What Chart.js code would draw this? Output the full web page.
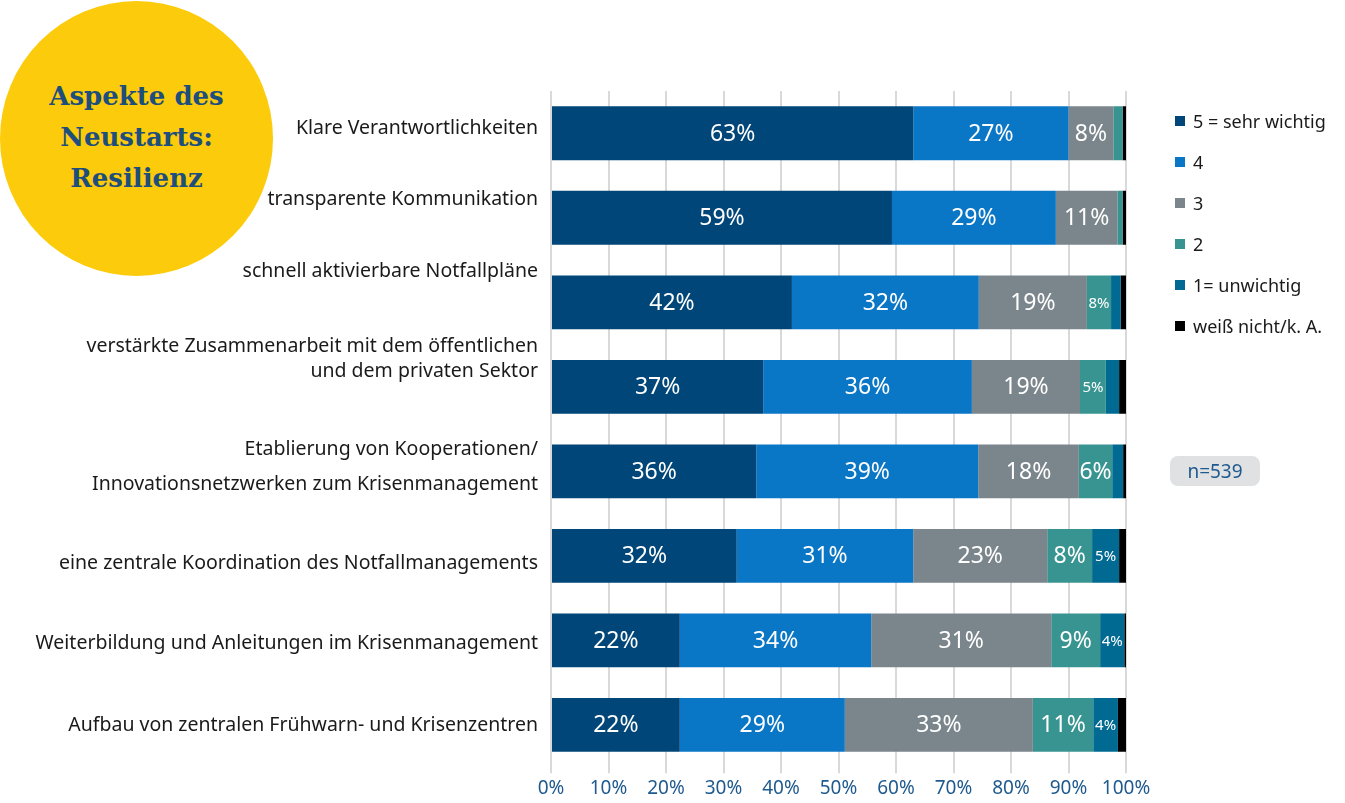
<!DOCTYPE html>
<html lang="de">
<head>
<meta charset="utf-8">
<script src="https://cdn.jsdelivr.net/npm/chart.js@4"></script>
<style>
  html, body { margin: 0; padding: 0; background: #fff; }
  #wrap { position: relative; width: 1345px; height: 803px; overflow: hidden; font-family: "Noto Sans", Lato, sans-serif; }
  #badge {
    position: absolute; left: 0; top: 1px; width: 273px; height: 275px; border-radius: 50%;
    background: #fccb0b; display: flex; align-items: center; justify-content: center; text-align: center;
    font-family: "DejaVu Serif", "Liberation Serif", serif; font-weight: bold; font-size: 26px; line-height: 41px;
    color: #1d4e7c;
  }
  #badge span { margin-top: -2px; }
  canvas { position: absolute; left: 0; top: 0; }
  #legend { position: absolute; left: 1175px; top: 100px; margin: 0; padding: 0; list-style: none; }
  #legend li { height: 41px; display: flex; align-items: center; font-size: 18px; color: #1a1a1a; }
  #legend i { display: inline-block; width: 10px; height: 10px; margin-right: 8px; }
  #nbox {
    position: absolute; left: 1170px; top: 456px; width: 90px; height: 30px; border-radius: 8px;
    background: #dfe1e3; color: #1f5a8f; font-size: 19px; line-height: 30px; text-align: center;
  }
</style>
</head>
<body>
<div id="wrap">
  <div id="badge"><span>Aspekte des<br>Neustarts:<br>Resilienz</span></div>
  <canvas id="resilienzChart" width="1345" height="803"></canvas>
  <ul id="legend"></ul>
  <div id="nbox">n=539</div>
</div>
<script>
const categories = [
  'Klare Verantwortlichkeiten',
  'transparente Kommunikation',
  'schnell aktivierbare Notfallpläne',
  ['verstärkte Zusammenarbeit mit dem öffentlichen', 'und dem privaten Sektor'],
  ['Etablierung von Kooperationen/', 'Innovationsnetzwerken zum Krisenmanagement'],
  'eine zentrale Koordination des Notfallmanagements',
  'Weiterbildung und Anleitungen im Krisenmanagement',
  'Aufbau von zentralen Frühwarn- und Krisenzentren'
];

const seriesNames = ['5 = sehr wichtig', '4', '3', '2', '1= unwichtig', 'weiß nicht/k. A.'];

// shares in percent
const wichtig5 = [63.0, 59.3, 41.9, 36.9, 35.7, 32.3, 22.4, 22.4];
const wichtig4 = [27.0, 28.5, 32.5, 36.3, 38.6, 30.7, 33.3, 28.7];
const wichtig3 = [7.8, 10.7, 18.8, 18.8, 17.5, 23.3, 31.3, 32.7];
const wichtig2 = [1.6, 0.9, 4.2, 4.5, 5.8, 7.8, 8.5, 10.5];
const unwichtig1 = [0, 0, 1.7, 2.3, 1.9, 4.7, 4.2, 4.3];
const weissNicht = [0.6, 0.6, 0.9, 1.2, 0.5, 1.2, 0.3, 1.4];

// printed segment labels as in the original
const labels5 = ['63%', '59%', '42%', '37%', '36%', '32%', '22%', '22%'];
const labels4 = ['27%', '29%', '32%', '36%', '39%', '31%', '34%', '29%'];
const labels3 = ['8%', '11%', '19%', '19%', '18%', '23%', '31%', '33%'];
const labels2 = ['', '', '8%', '5%', '6%', '8%', '9%', '11%'];
const labels1 = ['', '', '', '', '', '5%', '4%', '4%'];
const labelsX = ['', '', '', '', '', '', '', ''];

const xTicks = [0, 10, 20, 30, 40, 50, 60, 70, 80, 90, 100];

const colors = ['#004678', '#0a76c6', '#7b868c', '#389491', '#006a92', '#000000'];

// the category texts in the original sit a little off the bar centres
const labelShift = [-5, -18, -31, -28, -4, 8, 3, 0];
const labelLineGap = [0, 0, 0, 25, 35, 0, 0, 0];

const seriesValues = [wichtig5, wichtig4, wichtig3, wichtig2, unwichtig1, weissNicht];
const seriesLabels = [labels5, labels4, labels3, labels2, labels1, labelsX];

const FONT = '"Noto Sans", Lato, sans-serif';

const segmentLabels = {
    id: 'segmentLabels',
    afterDatasetsDraw(chart) {
        const ctx = chart.ctx;
        ctx.save();
        ctx.fillStyle = '#ffffff';
        ctx.textAlign = 'center';
        ctx.textBaseline = 'middle';
        chart.data.datasets.forEach(function (ds, i) {
            const meta = chart.getDatasetMeta(i);
            meta.data.forEach(function (bar, j) {
                const txt = seriesLabels[i][j];
                if (!txt) return;
                const w = Math.abs(bar.x - bar.base);
                const size = w < 30 ? 15 : 23;
                ctx.font = size + 'px ' + FONT;
                ctx.fillText(txt, (bar.x + bar.base) / 2, bar.y + 1);
            });
        });
        ctx.restore();
    }
};

const categoryLabels = {
    id: 'categoryLabels',
    afterDraw(chart) {
        const ctx = chart.ctx;
        const y = chart.scales.y;
        ctx.save();
        ctx.fillStyle = '#1a1a1a';
        ctx.textAlign = 'right';
        ctx.textBaseline = 'middle';
        ctx.font = '19.5px ' + FONT;
        const right = chart.chartArea.left - 13;
        categories.forEach(function (cat, i) {
            const mid = y.getPixelForValue(i) + labelShift[i];
            const lines = Array.isArray(cat) ? cat : [cat];
            const gap = labelLineGap[i];
            lines.forEach(function (line, k) {
                const yy = mid + (k - (lines.length - 1) / 2) * gap;
                ctx.fillText(line, right, yy);
            });
        });
        ctx.restore();
    }
};

document.addEventListener('DOMContentLoaded', function () {

    const canvas = document.getElementById('resilienzChart');

    if (!canvas || typeof Chart === 'undefined') {
        return;
    }

    const chart = new Chart(canvas, {
        type: 'bar',
        data: {
            labels: categories,
            datasets: seriesValues.map(function (vals, i) {
                return {
                    label: seriesNames[i],
                    data: vals,
                    backgroundColor: colors[i],
                    borderWidth: 0,
                    barPercentage: 0.637,
                    categoryPercentage: 1
                };
            })
        },
        options: {
            indexAxis: 'y',
            responsive: false,
            animation: false,
            layout: {
                padding: { top: 91, right: 219, bottom: 0, left: 0 }
            },
            plugins: {
                legend: { display: false },
                tooltip: { enabled: false }
            },
            scales: {
                x: {
                    stacked: true,
                    min: 0,
                    max: 100,
                    afterBuildTicks: function (scale) {
                        scale.ticks = xTicks.map(function (v) { return { value: v }; });
                    },
                    grid: { color: '#d9d9d9', lineWidth: 2, drawTicks: true, tickLength: 6 },
                    border: { display: false },
                    ticks: {
                        color: '#1f5a8f',
                        font: { family: FONT, size: 19 },
                        padding: 3.5,
                        callback: function (v) { return v + '%'; }
                    }
                },
                y: {
                    stacked: true,
                    grid: { display: false },
                    border: { display: false },
                    afterFit: function (scale) { scale.width = 551; },
                    ticks: { display: false }
                }
            }
        },
        plugins: [segmentLabels, categoryLabels]
    });

    const legend = document.getElementById('legend');
    chart.data.datasets.forEach(function (ds) {
        const li = document.createElement('li');
        const box = document.createElement('i');
        box.style.background = ds.backgroundColor;
        li.appendChild(box);
        li.appendChild(document.createTextNode(ds.label));
        legend.appendChild(li);
    });

});
</script>
</body>
</html>
